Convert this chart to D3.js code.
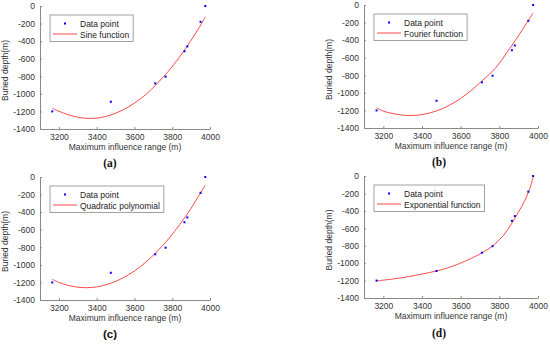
<!DOCTYPE html>
<html>
<head>
<meta charset="utf-8">
<script src="https://cdn.jsdelivr.net/npm/d3@7"></script>
<style>
  body { margin: 0; background: #fff; }
  svg { display: block; font-family: "Liberation Sans", Arial, sans-serif; }
  .axis path, .axis line { stroke: #8a8a8a; }
  .axis text { fill: #333; font-size: 8.5px; font-family: "Liberation Sans", Arial, sans-serif; }
</style>
</head>
<body>
<div id="chart"></div>
<script>
// measured data points (shared by all four panels)
const pointRange = [3165, 3475, 3710, 3765, 3865, 3880, 3950, 3975];
const pointDepth = [-1200, -1090, -880, -805, -515, -460, -180, 0];

// fitted curves: [range, depth]
const sineFit = [[3165,-1165],[3200,-1198],[3250,-1238],[3300,-1266],[3360,-1280],[3420,-1270],
  [3475,-1240],[3540,-1182],[3600,-1105],[3660,-1008],[3718,-888],[3780,-742],[3840,-578],
  [3900,-390],[3940,-254],[3975,-125]];
const fourierFit = [[3165,-1170],[3200,-1208],[3250,-1236],[3300,-1253],[3340,-1258],[3400,-1248],
  [3475,-1206],[3540,-1143],[3600,-1063],[3660,-962],[3710,-864],[3780,-720],[3840,-538],
  [3900,-347],[3940,-210],[3975,-92]];
const quadFit = [[3165,-1165],[3200,-1200],[3250,-1234],[3300,-1254],[3345,-1260],[3400,-1251],
  [3475,-1210],[3540,-1148],[3600,-1069],[3660,-969],[3710,-869],[3780,-705],[3840,-540],
  [3900,-356],[3940,-215],[3975,-95]];
const expFit = [[3165,-1203],[3250,-1182],[3330,-1155],[3400,-1125],[3475,-1090],[3550,-1042],
  [3620,-980],[3680,-918],[3710,-882],[3765,-803],[3820,-685],[3865,-540],[3900,-410],
  [3930,-290],[3950,-188],[3965,-95],[3975,-5]];

const xTicks = [3200, 3400, 3600, 3800, 4000];
const yTicks = [0, -200, -400, -600, -800, -1000, -1200, -1400];
const fitNames = ["Sine function", "Fourier function", "Quadratic polynomial", "Exponential function"];
const fitCurves = [sineFit, fourierFit, quadFit, expFit];
const panelTags = ["(a)", "(b)", "(c)", "(d)"];

const W = 550, H = 344;
const svg = d3.select("#chart").append("svg").attr("width", W).attr("height", H);

// plot boxes for each panel (pixels)
const boxes = [
  { left: 40, top: 6, width: 170, height: 123, tagY: 167, serif: true },
  { left: 364, top: 5, width: 174, height: 123, tagY: 166, serif: true },
  { left: 40, top: 177, width: 170, height: 123, tagY: 338, serif: false },
  { left: 364, top: 176, width: 174, height: 122, tagY: 337, serif: true }
];

const plain = function(d) { return String(d); };

boxes.forEach(function(b, i) {
  const g = svg.append("g").attr("transform", "translate(" + b.left + "," + b.top + ")");

  const x = d3.scaleLinear().domain([3100, 4000]).range([0, b.width]);
  const y = d3.scaleLinear().domain([-1400, 0]).range([b.height, 0]);

  const xAxis = d3.axisBottom(x).tickValues(xTicks).tickFormat(plain)
    .tickSizeInner(-2).tickSizeOuter(0).tickPadding(5);
  const yAxis = d3.axisLeft(y).tickValues(yTicks).tickFormat(plain)
    .tickSizeInner(-2).tickSizeOuter(0).tickPadding(5);

  g.append("g").attr("class", "axis")
    .attr("transform", "translate(0," + b.height + ")")
    .call(xAxis);
  g.append("g").attr("class", "axis").call(yAxis);

  // fitted curve
  const line = d3.line()
    .x(function(d) { return x(d[0]); })
    .y(function(d) { return y(d[1]); })
    .curve(d3.curveCatmullRom);
  g.append("path")
    .datum(fitCurves[i])
    .attr("fill", "none")
    .attr("stroke", "#ff4a4a")
    .attr("stroke-width", 1)
    .attr("d", line);

  // data points
  g.selectAll(".pt")
    .data(pointRange.map(function(r, k) { return [r, pointDepth[k]]; }))
    .enter().append("rect")
    .attr("class", "pt")
    .attr("x", function(d) { return x(d[0]) - 1; })
    .attr("y", function(d) { return y(d[1]) - 1; })
    .attr("width", 2)
    .attr("height", 2)
    .attr("fill", "#0000ff");

  // axis titles
  g.append("text")
    .attr("x", b.width / 2)
    .attr("y", b.height + 21)
    .attr("text-anchor", "middle")
    .attr("font-size", "8.5px")
    .attr("fill", "#333")
    .text("Maximum influence range (m)");
  g.append("text")
    .attr("transform", "translate(-32," + (b.height / 2 + 3) + ") rotate(-90)")
    .attr("text-anchor", "middle")
    .attr("font-size", "8.5px")
    .attr("fill", "#333")
    .text("Buried depth(m)");

  // legend
  const leg = g.append("g").attr("transform", "translate(10,9)");
  const legBox = leg.append("rect")
    .attr("fill", "#fff")
    .attr("stroke", "#8a8a8a")
    .attr("stroke-width", 0.8)
    .attr("height", 26.5);
  leg.append("rect")
    .attr("x", 14).attr("y", 7.5).attr("width", 2).attr("height", 2)
    .attr("fill", "#0000ff");
  leg.append("line")
    .attr("x1", 3).attr("x2", 27).attr("y1", 19).attr("y2", 19)
    .attr("stroke", "#ff4a4a").attr("stroke-width", 1);
  const t1 = leg.append("text").attr("x", 30).attr("y", 11.5)
    .attr("font-size", "8.5px").attr("fill", "#222").text("Data point");
  const t2 = leg.append("text").attr("x", 30).attr("y", 22.5)
    .attr("font-size", "8.5px").attr("fill", "#222").text(fitNames[i]);
  const tw = Math.max(t1.node().getComputedTextLength(), t2.node().getComputedTextLength());
  legBox.attr("width", 30 + tw + 4);

  // panel tag
  svg.append("text")
    .attr("x", b.left + b.width / 2 - 15 + (i % 2 ? 3 : 0))
    .attr("y", b.tagY)
    .attr("text-anchor", "middle")
    .attr("font-family", b.serif ? "'Liberation Serif', 'Times New Roman', serif" : "'Liberation Sans', Arial, sans-serif")
    .attr("font-weight", "bold")
    .attr("font-size", "11.5px")
    .attr("fill", "#111")
    .text(panelTags[i]);
});
</script>
</body>
</html>
